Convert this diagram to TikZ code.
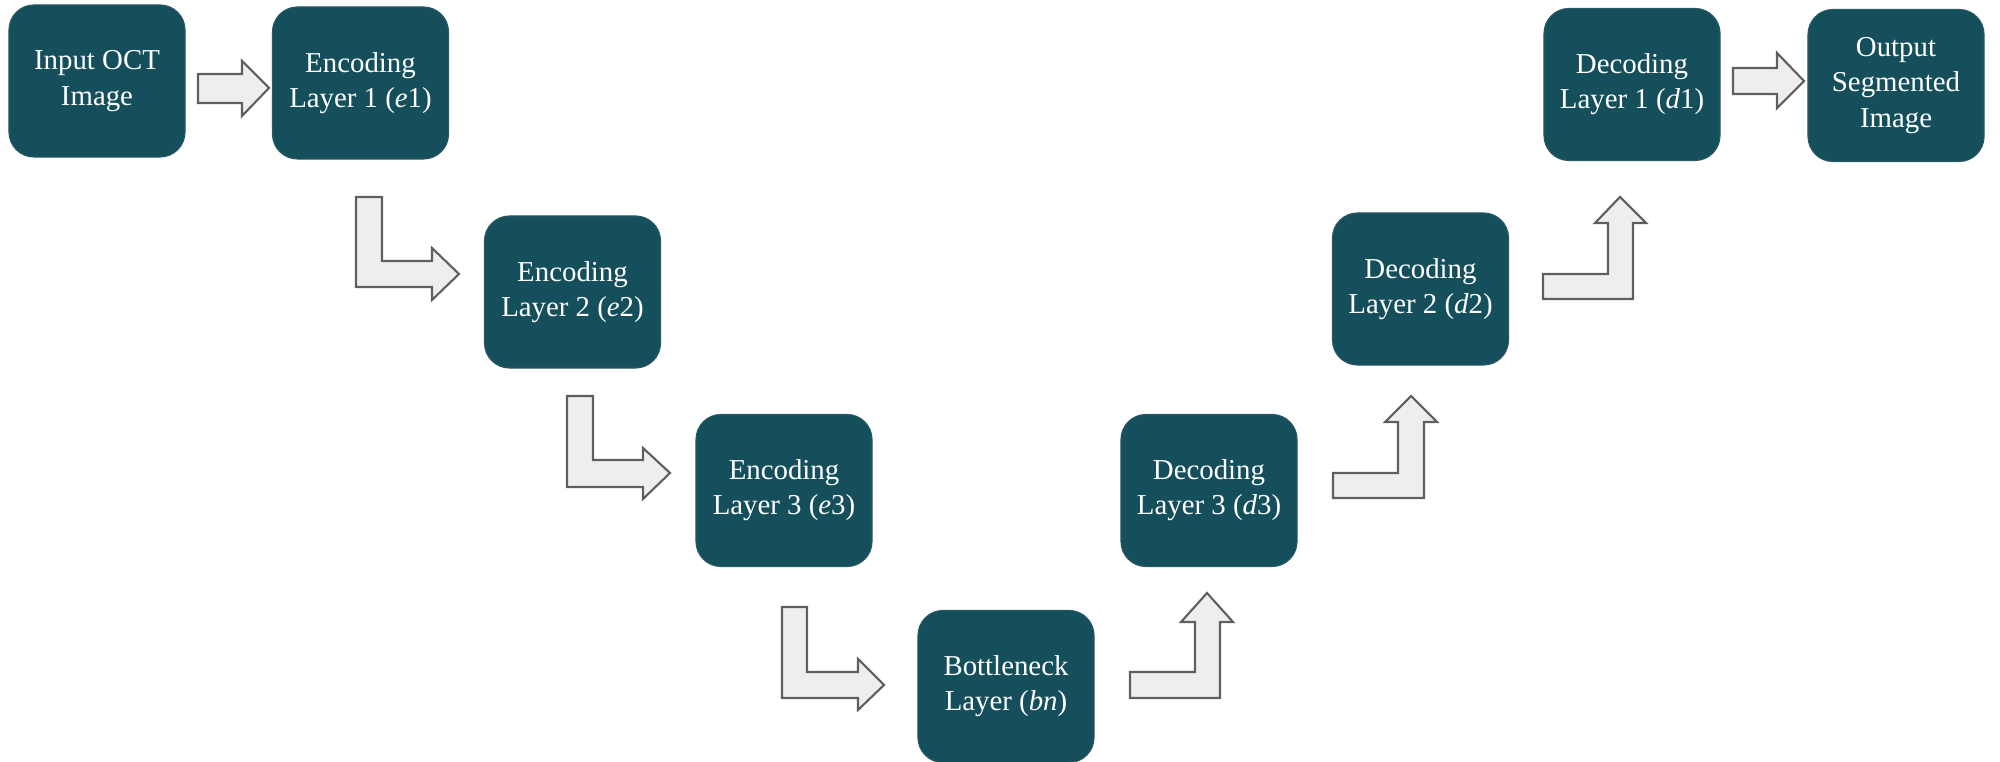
\documentclass[tikz,border=0pt]{standalone}
\usepackage{fontspec}
\setmainfont{LiberationSerif}[Extension=.ttf, UprightFont=*-Regular, ItalicFont=*-Italic, BoldFont=*-Bold]
\definecolor{boxteal}{HTML}{164F5C}
\definecolor{arrowfill}{HTML}{EEEEEE}
\definecolor{arrowline}{HTML}{5F5F5F}
\begin{document}
\begin{tikzpicture}[x=0.01cm,y=-0.01cm,
  layerbox/.style={rectangle, rounded corners=0.25cm, fill=boxteal, draw=boxteal!80!gray,
    line width=0.3pt, minimum width=1.76cm, minimum height=1.52cm, inner sep=0pt,
    text=white, align=center, font=\rmfamily\fontsize{8.2pt}{10pt}\selectfont},
  blockarrow/.style={fill=arrowfill, draw=arrowline, line width=0.6pt, line join=miter}]
\useasboundingbox (0,0) rectangle (2000,762);
\node[layerbox] (in) at (97,81) {Input OCT\\Image};
\node[layerbox] (e1) at (360.5,83) {Encoding\\Layer 1 (\textit{e}1)};
\node[layerbox] (e2) at (572.5,292) {Encoding\\Layer 2 (\textit{e}2)};
\node[layerbox] (e3) at (784,490.5) {Encoding\\Layer 3 (\textit{e}3)};
\node[layerbox] (bn) at (1006,686.5) {Bottleneck\\Layer (\textit{bn})};
\node[layerbox] (d3) at (1209,490.5) {Decoding\\Layer 3 (\textit{d}3)};
\node[layerbox] (d2) at (1420.5,289) {Decoding\\Layer 2 (\textit{d}2)};
\node[layerbox] (d1) at (1632,84.5) {Decoding\\Layer 1 (\textit{d}1)};
\node[layerbox] (out) at (1896,85.5) {Output\\Segmented\\Image};
% straight block arrows
\draw[blockarrow] (198,74) -- (242,74) -- (242,61) -- (269,88) -- (242,116) -- (242,103) -- (198,103) -- cycle;
\draw[blockarrow] (1733,68) -- (1777,68) -- (1777,53) -- (1804,81) -- (1777,108) -- (1777,94) -- (1733,94) -- cycle;
% bent down-right arrows
\draw[blockarrow] (356,197) -- (382,197) -- (382,261) -- (432,261) -- (432,248) -- (459,274) -- (432,300) -- (432,287) -- (356,287) -- cycle;
\draw[blockarrow] (567,396) -- (593,396) -- (593,460) -- (643,460) -- (643,448) -- (670,473) -- (643,499) -- (643,487) -- (567,487) -- cycle;
\draw[blockarrow] (782,607) -- (807,607) -- (807,672) -- (858,672) -- (858,659) -- (884,685) -- (858,710) -- (858,698) -- (782,698) -- cycle;
% bent right-up arrows
\draw[blockarrow] (1130,672) -- (1195,672) -- (1195,622) -- (1181,622) -- (1207,593) -- (1233,622) -- (1220,622) -- (1220,698) -- (1130,698) -- cycle;
\draw[blockarrow] (1333,473) -- (1398,473) -- (1398,422) -- (1385,422) -- (1411,396) -- (1437,422) -- (1424,422) -- (1424,498) -- (1333,498) -- cycle;
\draw[blockarrow] (1543,274) -- (1608,274) -- (1608,223) -- (1595,223) -- (1620,197) -- (1646,223) -- (1633,223) -- (1633,299) -- (1543,299) -- cycle;
\end{tikzpicture}
\end{document}
